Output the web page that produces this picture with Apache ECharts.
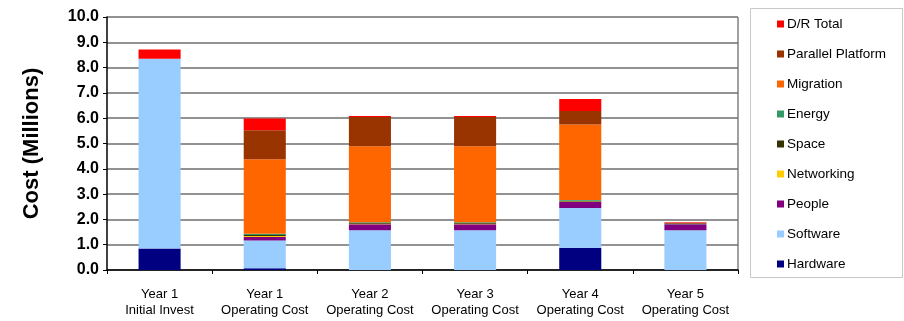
<!DOCTYPE html>
<html>
<head>
<meta charset="utf-8">
<script src="https://cdn.jsdelivr.net/npm/echarts@6/dist/echarts.min.js"></script>
<style>
  html, body { margin: 0; padding: 0; background: #fff; }
  #main { width: 904px; height: 321px; }
</style>
</head>
<body>
<div id="main"></div>
<script>
// categories on the x axis
const categories = [
  'Year 1\nInitial Invest',
  'Year 1\nOperating Cost',
  'Year 2\nOperating Cost',
  'Year 3\nOperating Cost',
  'Year 4\nOperating Cost',
  'Year 5\nOperating Cost'
];

// stacked values, bottom to top (millions)
const hardware = [0.85, 0.07, 0, 0, 0.88, 0];
const software = [7.50, 1.10, 1.57, 1.57, 1.57, 1.57];
const people = [0, 0.13, 0.24, 0.24, 0.24, 0.24];
const networking = [0, 0.04, 0.02, 0.02, 0.02, 0];
const space = [0, 0.04, 0.03, 0.03, 0.03, 0];
const energy = [0, 0.05, 0.03, 0.03, 0.03, 0.02];
const migration = [0, 2.95, 3.00, 3.00, 2.98, 0];
const parallelPlatform = [0, 1.14, 1.16, 1.16, 0.53, 0.04];
const drTotal = [0.37, 0.47, 0.04, 0.04, 0.48, 0.02];

const yTicks = { min: 0, max: 10, interval: 1 };

const seriesDefs = [
  ['Hardware', hardware, '#000080'],
  ['Software', software, '#99CCFF'],
  ['People', people, '#800080'],
  ['Networking', networking, '#FFCC00'],
  ['Space', space, '#333300'],
  ['Energy', energy, '#339966'],
  ['Migration', migration, '#FF6600'],
  ['Parallel Platform', parallelPlatform, '#993300'],
  ['D/R Total', drTotal, '#FF0000']
];

const chart = echarts.init(document.getElementById('main'));

const option = {
  animation: false,
  textStyle: { fontFamily: 'Liberation Sans, Arial, sans-serif' },
  grid: { left: 107, right: 166, top: 17, bottom: 51 },
  legend: {
    orient: 'vertical',
    left: 772,
    top: 12,
    itemWidth: 7,
    itemHeight: 7,
    itemGap: 16,
    icon: 'rect',
    data: seriesDefs.map(d => d[0]).reverse(),
    textStyle: { fontSize: 13.5, color: '#000', fontFamily: 'Liberation Sans, Arial, sans-serif', padding: [0, 0, 0, -2] }
  },
  graphic: [{
    type: 'rect',
    shape: { x: 750.5, y: 8.5, width: 152, height: 269 },
    style: { fill: 'none', stroke: '#c8c8c8', lineWidth: 1 },
    z: -1
  }, {
    type: 'line',
    shape: { x1: 738, y1: 17, x2: 738, y2: 270 },
    style: { stroke: '#808080', lineWidth: 1.5 }
  }],
  xAxis: {
    type: 'category',
    data: categories,
    axisLine: { lineStyle: { color: '#000', width: 1.5 } },
    axisTick: { show: true, length: 4, lineStyle: { color: '#000' } },
    axisLabel: {
      interval: 0,
      margin: 16,
      fontSize: 13,
      lineHeight: 16,
      color: '#000',
      fontFamily: 'Liberation Sans Narrow, Arial Narrow, Liberation Sans, sans-serif'
    }
  },
  yAxis: {
    type: 'value',
    min: yTicks.min,
    max: yTicks.max,
    interval: yTicks.interval,
    name: 'Cost (Millions)',
    nameLocation: 'middle',
    nameGap: 64,
    nameTextStyle: { fontSize: 22, fontWeight: 'bold', color: '#000' },
    axisLine: { show: true, lineStyle: { color: '#000', width: 1.5 } },
    axisTick: { show: true, length: 4, lineStyle: { color: '#000' } },
    axisLabel: {
      fontSize: 16,
      fontWeight: 'bold',
      color: '#000',
      margin: 8,
      formatter: v => v.toFixed(1)
    },
    splitLine: { lineStyle: { color: '#6e6e6e', width: 1.5 } }
  },
  series: seriesDefs.map(([name, data, color]) => ({
    name: name,
    type: 'bar',
    stack: 'total',
    data: data,
    barWidth: '40%',
    itemStyle: { color: color },
    emphasis: { disabled: true }
  }))
};

chart.setOption(option);
</script>
</body>
</html>
